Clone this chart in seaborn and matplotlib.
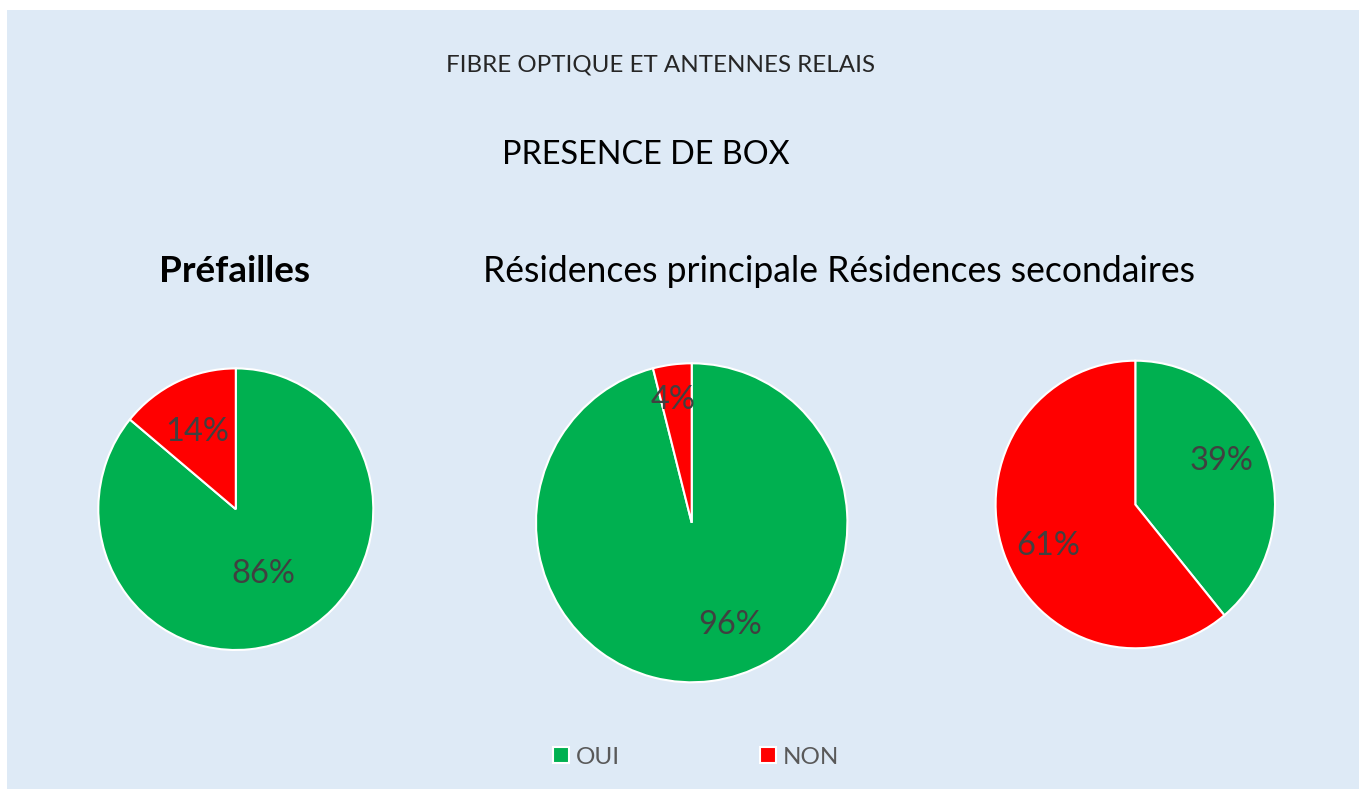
import matplotlib
matplotlib.use("Agg")
import matplotlib.pyplot as plt
import seaborn as sns
from matplotlib.patches import Rectangle

# ---- data ----
categories = ["OUI", "NON"]
prefailles = [86, 14]
res_principale = [96, 4]
res_secondaire = [39, 61]
pct_labels_pref = ["86%", "14%"]
pct_labels_princ = ["96%", "4%"]
pct_labels_sec = ["39%", "61%"]

main_title = "FIBRE OPTIQUE ET ANTENNES RELAIS"
sub_title = "PRESENCE DE BOX"
group_left = "Préfailles"
group_right = "Résidences principale Résidences secondaires"

colors = ["#00B050", "#FF0000"]
W, H = 1359, 789

sns.set_theme(style="white")
plt.rcParams['font.family'] = ['Lato', 'DejaVu Sans']

fig = plt.figure(figsize=(W / 100, H / 100), dpi=100, facecolor="white")
fig.patches.append(Rectangle((7 / W, 0), 1 - 7 / W, 1 - 10 / H, transform=fig.transFigure,
                             facecolor="#DEEAF6", edgecolor="none", zorder=-10))

def add_pie(cx, cy, rx, ry, values, labels, label_pos):
    ax = fig.add_axes([(cx - rx) / W, (H - cy - ry) / H, 2 * rx / W, 2 * ry / H])
    ax.set_facecolor("none")
    ax.patch.set_alpha(0)
    wedges, _ = ax.pie(values, colors=colors, startangle=90, counterclock=False,
                       radius=1, wedgeprops=dict(edgecolor="white", linewidth=1.5))
    for lab, (x, y) in zip(labels, label_pos):
        ax.text(x, y, lab, ha="center", va="center", fontsize=23.5, color="#404040")
    ax.set_aspect("auto")
    ax.set_xlim(-1.0, 1.0)
    ax.set_ylim(-1.0, 1.0)
    ax.axis("off")
    return wedges

wedges = add_pie(235.8, 509.2, 137.5, 140.8, prefailles, pct_labels_pref,
                 [(0.20, -0.46), (-0.28, 0.55)])
add_pie(691.7, 522.8, 155.7, 159.5, res_principale, pct_labels_princ,
        [(0.25, -0.64), (-0.12, 0.77)])
add_pie(1135.3, 504.5, 139.7, 143.8, res_secondaire, pct_labels_sec,
        [(0.62, 0.30), (-0.62, -0.29)])

fig.text(661 / W, 1 - 65 / H, main_title, ha="center", va="center", fontsize=17.4, color="#262626")
fig.text(646 / W, 1 - 155 / H, sub_title, ha="center", va="center", fontsize=23.3, color="black")
fig.text(235 / W, 1 - 272 / H, group_left, ha="center", va="center", fontsize=26.5,
         fontweight="bold", color="black")
fig.text(839 / W, 1 - 272 / H, group_right, ha="center", va="center", fontsize=25.6, color="black")

leg = fig.legend(wedges, categories, loc="center", bbox_to_anchor=(696 / W, 1 - 757 / H),
                 ncol=2, frameon=False, fontsize=17.5, handlelength=0.66, handleheight=0.66,
                 handletextpad=0.3, columnspacing=5.75, labelcolor="#595959")

fig.savefig("out.png", dpi=100, facecolor="white")
